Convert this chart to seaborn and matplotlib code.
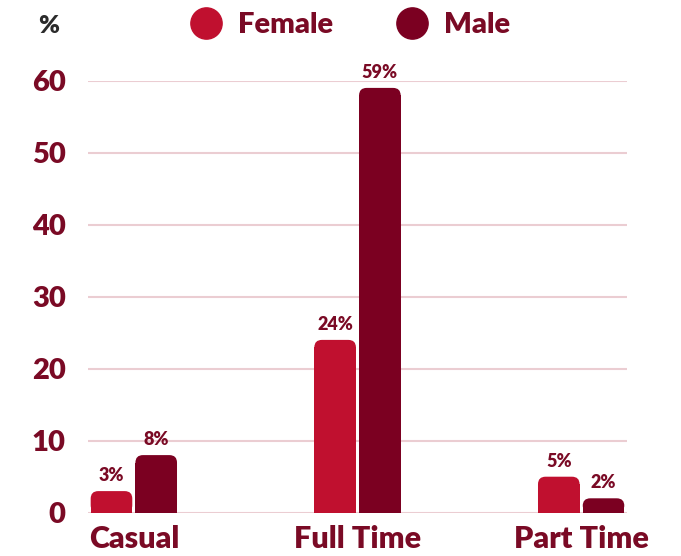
import numpy as np
import pandas as pd
import seaborn as sns
import matplotlib.pyplot as plt
from matplotlib.patches import FancyBboxPatch
from matplotlib.lines import Line2D

# datos
tipos = ['Casual', 'Full Time', 'Part Time']
mujeres = [3, 24, 5]
hombres = [8, 59, 2]
sexos = ['Female', 'Male']

col_f = '#C0102F'
col_m = '#7B0021'
col_txt = '#7A0A25'
col_grid = '#EBCDD2'

df = pd.DataFrame({
    'tipo': tipos * 2,
    'pct': mujeres + hombres,
    'sexo': [sexos[0]] * len(tipos) + [sexos[1]] * len(tipos),
})

sns.set_style('white')
plt.rcParams['font.family'] = ['Lato', 'DejaVu Sans']
peso = 'heavy'

W, H = 681, 556
fig = plt.figure(figsize=(W / 100, H / 100), dpi=100)
ax = fig.add_axes([88 / W, (H - 512.7) / H, (627 - 88) / W, (512.7 - 80.7) / H])

sns.barplot(data=df, x='tipo', y='pct', hue='sexo', palette=[col_f, col_m],
            width=0.4, gap=0.07, linewidth=0, saturation=1, legend=False, ax=ax)

ax.set_xlim(-0.205, 2.205)
ax.set_ylim(0, 60)

# esquinas redondeadas arriba
ry = 1.05
rx = ry * 7.2 / 223.5
for p in list(ax.patches):
    x0, w, h = p.get_x(), p.get_width(), p.get_height()
    color = p.get_facecolor()
    caja = FancyBboxPatch((x0, 0), w, h, boxstyle=f'round,pad=0,rounding_size={rx}',
                          mutation_aspect=ry / rx, facecolor=color, edgecolor='none', zorder=3)
    ax.add_patch(caja)
    p.set_height(max(h - ry, h * 0.5))
    p.set_zorder(3)
    ax.text(x0 + w / 2, h + 1.0, f'{int(round(h))}%', ha='center', va='bottom',
            fontsize=13, fontweight=peso, color=col_txt)

ax.set_yticks(range(0, 61, 10))
ax.yaxis.grid(True, color=col_grid, linewidth=1.5)
ax.set_axisbelow(True)
for s in ax.spines.values():
    s.set_visible(False)
ax.tick_params(axis='both', length=0)
ax.tick_params(axis='y', pad=16, labelsize=21, labelcolor=col_txt)
ax.tick_params(axis='x', pad=9, labelsize=22, labelcolor=col_txt)
for t in ax.get_xticklabels() + ax.get_yticklabels():
    t.set_fontweight(peso)
ax.set_xlabel('')
ax.set_ylabel('')

fig.text(49 / W, 1 - 26 / H, '%', ha='center', va='center', fontsize=18,
         fontweight=peso, color='#2b2b2b')

handles = [Line2D([], [], marker='o', linestyle='none', markersize=22.5, color=col_f),
           Line2D([], [], marker='o', linestyle='none', markersize=22.5, color=col_m)]
leg = fig.legend(handles, sexos, loc='center', bbox_to_anchor=(350 / W, 1 - 25 / H),
                 ncol=2, frameon=False, prop={'size': 21, 'weight': peso},
                 handletextpad=0.55, columnspacing=2.15, handlelength=1.1)
for t in leg.get_texts():
    t.set_color(col_txt)

fig.savefig('out.png', dpi=100)
